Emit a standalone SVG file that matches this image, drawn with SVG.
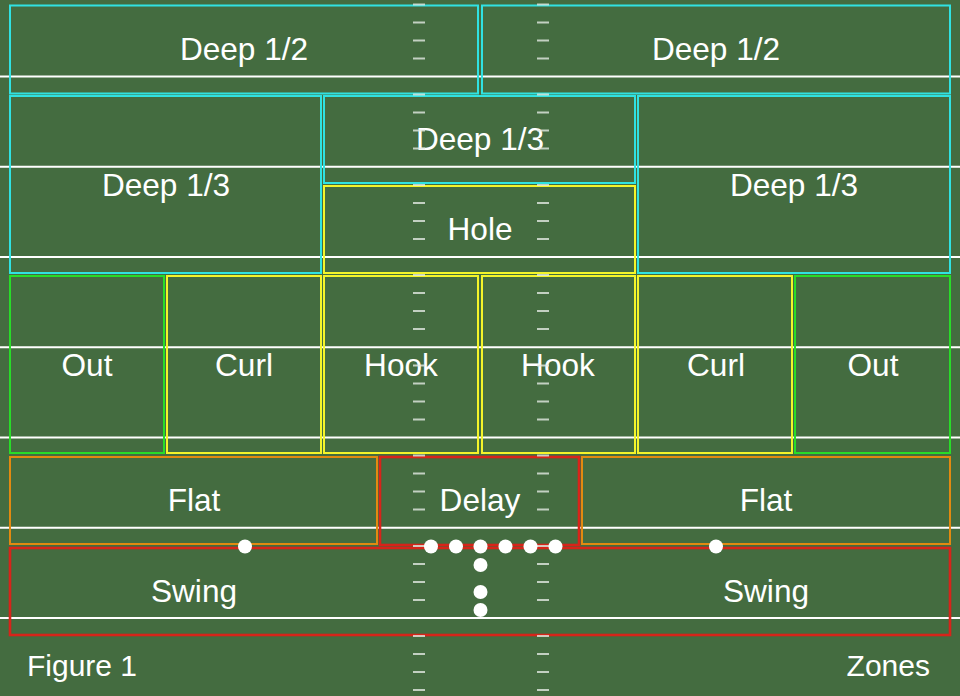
<svg xmlns="http://www.w3.org/2000/svg" width="960" height="696" viewBox="0 0 960 696">
<style>
.bg{fill:#446c40}
.yard{stroke:#ffffff;stroke-width:2;fill:none}
.hash{stroke:#e4eae2;stroke-width:2;fill:none;opacity:0.8}
.z{fill:none;stroke-width:2}
.cyan{stroke:#30e2e2}
.yellow{stroke:#f4f42a}
.green{stroke:#28dc28}
.orange{stroke:#e28a10}
.red{stroke:#d8241a;stroke-width:2.6}
.lbl{font-family:"Liberation Sans",Arial,sans-serif;font-size:31.6px;fill:#ffffff;text-anchor:middle}
.cap{font-family:"Liberation Sans",Arial,sans-serif;font-size:30px;fill:#ffffff}
.dot{fill:#ffffff}
</style>
<rect class="bg" x="0" y="0" width="960" height="696"/>
<g id="field">
<path class="yard" d="M0 76.5H960M0 166.75H960M0 257H960M0 347.25H960M0 437.5H960M0 527.75H960M0 618H960"/>
</g>
<g id="connectors"></g>
<g id="deep-half-left"><rect class="z cyan" x="10" y="5.5" width="468" height="88"/><text class="lbl" x="244" y="60">Deep 1/2</text></g>
<g id="deep-half-right"><rect class="z cyan" x="482" y="5.5" width="468" height="88"/><text class="lbl" x="716" y="60">Deep 1/2</text></g>
<g id="deep-third-left"><rect class="z cyan" x="10" y="96" width="311" height="177"/><text class="lbl" x="166" y="196">Deep 1/3</text></g>
<g id="deep-third-middle"><rect class="z cyan" x="324" y="96" width="311" height="87"/><text class="lbl" x="480" y="150">Deep 1/3</text></g>
<g id="deep-third-right"><rect class="z cyan" x="638" y="96" width="312" height="177"/><text class="lbl" x="794" y="196">Deep 1/3</text></g>
<g id="hole"><rect class="z yellow" x="324" y="186" width="311" height="87"/><text class="lbl" x="480" y="240">Hole</text></g>
<g id="out-left"><rect class="z green" x="10" y="276" width="154" height="177"/><text class="lbl" x="87" y="376">Out</text></g>
<g id="curl-left"><rect class="z yellow" x="167" y="276" width="154" height="177"/><text class="lbl" x="244" y="376">Curl</text></g>
<g id="hook-left"><rect class="z yellow" x="324" y="276" width="154" height="177"/><text class="lbl" x="401" y="376">Hook</text></g>
<g id="hook-right"><rect class="z yellow" x="482" y="276" width="153" height="177"/><text class="lbl" x="558" y="376">Hook</text></g>
<g id="curl-right"><rect class="z yellow" x="638" y="276" width="154" height="177"/><text class="lbl" x="716" y="376">Curl</text></g>
<g id="out-right"><rect class="z green" x="795" y="276" width="155" height="177"/><text class="lbl" x="873" y="376">Out</text></g>
<g id="flat-left"><rect class="z orange" x="10" y="457" width="367" height="87"/><text class="lbl" x="194" y="511">Flat</text></g>
<g id="delay"><rect class="z red" x="380" y="457" width="199" height="88"/><text class="lbl" x="480" y="511">Delay</text></g>
<g id="flat-right"><rect class="z orange" x="582" y="457" width="368" height="87"/><text class="lbl" x="766" y="511">Flat</text></g>
<g id="swing"><rect class="z red" x="10" y="548" width="940" height="87"/></g>
<g id="swing-left"><text class="lbl" x="194" y="602">Swing</text></g>
<g id="swing-right"><text class="lbl" x="766" y="602">Swing</text></g>
<g id="hashes">
<path class="hash" d="M413 4.5h12M413 22.5h12M413 40.5h12M413 58.5h12M413 94.5h12M413 112.5h12M413 130.5h12M413 148.5h12M413 185h12M413 203h12M413 221h12M413 239h12M413 275h12M413 293h12M413 311h12M413 329h12M413 365.5h12M413 383.5h12M413 401.5h12M413 419.5h12M413 455.5h12M413 473.5h12M413 491.5h12M413 509.5h12M413 546h12M413 564h12M413 582h12M413 600h12M413 636h12M413 654h12M413 672h12M413 690h12"/>
<path class="hash" d="M537 4.5h12M537 22.5h12M537 40.5h12M537 58.5h12M537 94.5h12M537 112.5h12M537 130.5h12M537 148.5h12M537 185h12M537 203h12M537 221h12M537 239h12M537 275h12M537 293h12M537 311h12M537 329h12M537 365.5h12M537 383.5h12M537 401.5h12M537 419.5h12M537 455.5h12M537 473.5h12M537 491.5h12M537 509.5h12M537 546h12M537 564h12M537 582h12M537 600h12M537 636h12M537 654h12M537 672h12M537 690h12"/>
</g>
<g id="players">
<circle class="dot" cx="245" cy="546.5" r="7"/>
<circle class="dot" cx="431" cy="546.5" r="7"/>
<circle class="dot" cx="456" cy="546.5" r="7"/>
<circle class="dot" cx="480.5" cy="546.5" r="7"/>
<circle class="dot" cx="505.5" cy="546.5" r="7"/>
<circle class="dot" cx="530.5" cy="546.5" r="7"/>
<circle class="dot" cx="555.5" cy="546.5" r="7"/>
<circle class="dot" cx="716" cy="546.5" r="7"/>
<circle class="dot" cx="480.5" cy="565" r="7"/>
<circle class="dot" cx="480.5" cy="592" r="7"/>
<circle class="dot" cx="480.5" cy="610" r="7"/>
</g>
<g id="captions">
<text class="cap" x="27" y="676">Figure 1</text>
<text class="cap" x="930" y="676" text-anchor="end">Zones</text>
</g>
</svg>
